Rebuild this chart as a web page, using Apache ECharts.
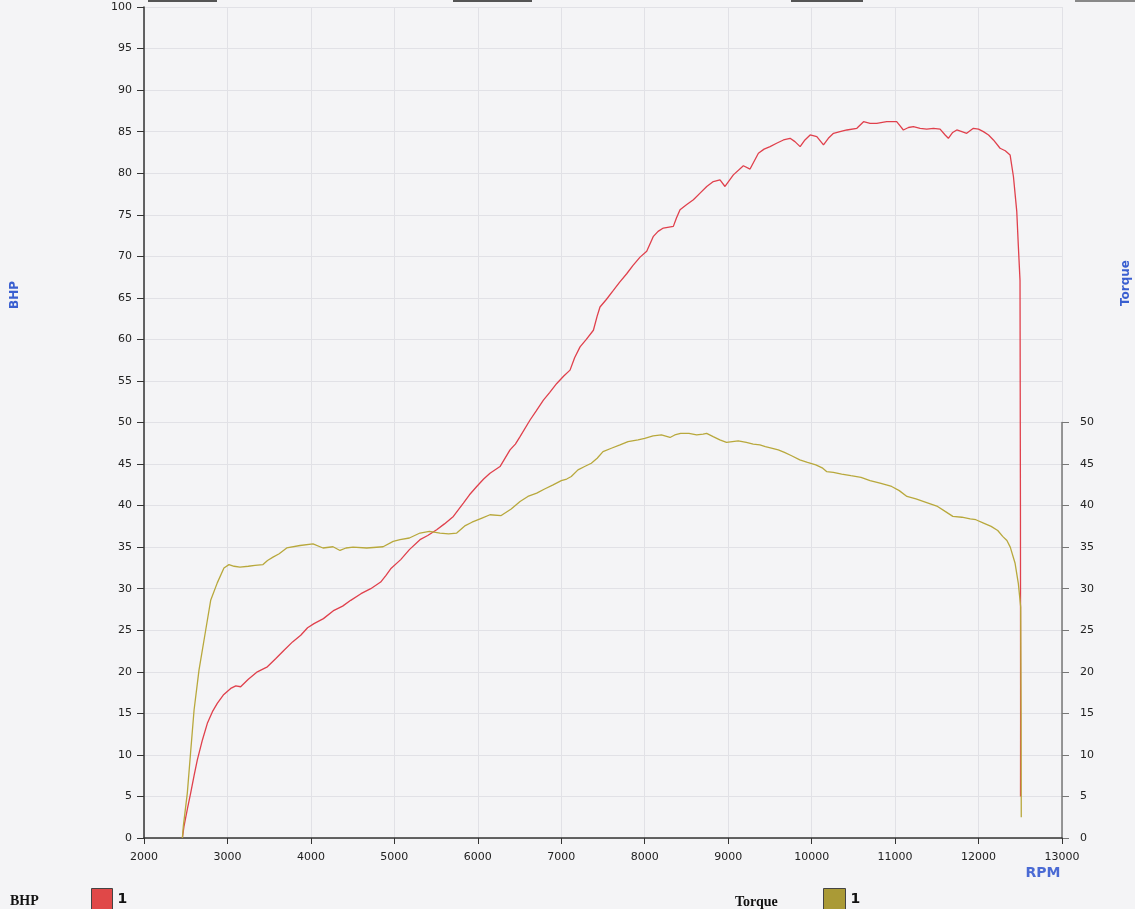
<!DOCTYPE html>
<html>
<head>
<meta charset="utf-8">
<script src="https://cdn.jsdelivr.net/npm/echarts@6/dist/echarts.min.js"></script>
<style>
html,body{margin:0;padding:0;background:#f4f4f6;}
#chart{width:1135px;height:909px;}
</style>
</head>
<body>
<div id="chart"></div>
<script>
// ---- data ----
const bhpRpm = [2460,2479,2520,2559,2600,2639,2700,2759,2820,2878,2950,3039,3100,3158,3250,3358,3478,3580,3678,3780,3878,3960,4037,4150,4277,4380,4477,4600,4717,4836,4900,4956,5076,5180,5307,5400,5507,5600,5707,5827,5900,5987,6070,6146,6266,6386,6450,6506,6626,6700,6786,6860,6946,7030,7105,7160,7225,7300,7385,7430,7464,7540,7624,7700,7784,7860,7944,8024,8104,8160,8223,8343,8380,8423,8500,8583,8663,8743,8822,8902,8962,9062,9182,9262,9362,9430,9502,9580,9662,9742,9800,9862,9920,9982,10062,10142,10200,10262,10340,10422,10542,10622,10700,10780,10899,11019,11060,11099,11160,11219,11300,11379,11460,11539,11600,11638,11690,11739,11800,11858,11938,12000,12058,12120,12178,12258,12320,12378,12418,12458,12477,12497,12502,12504,12503];
const bhpValues = [0,1.4,3.5,5.4,7.5,9.4,11.8,13.8,15.2,16.2,17.2,18.0,18.3,18.2,19.1,20.0,20.6,21.6,22.6,23.6,24.4,25.3,25.8,26.4,27.4,27.9,28.6,29.4,30.0,30.8,31.6,32.4,33.5,34.7,35.9,36.4,37.1,37.8,38.7,40.3,41.3,42.3,43.2,43.9,44.7,46.7,47.4,48.3,50.3,51.4,52.7,53.6,54.7,55.6,56.3,57.8,59.1,60.0,61.1,62.8,63.9,64.8,65.9,66.9,67.9,68.9,69.9,70.6,72.4,73.0,73.4,73.6,74.6,75.6,76.2,76.8,77.6,78.4,79.0,79.2,78.4,79.8,80.9,80.5,82.4,82.9,83.2,83.6,84.0,84.2,83.8,83.2,84.0,84.6,84.4,83.4,84.2,84.8,85.0,85.2,85.4,86.2,86.0,86.0,86.2,86.2,85.7,85.2,85.5,85.6,85.4,85.3,85.4,85.3,84.6,84.2,84.9,85.2,85.0,84.8,85.4,85.3,85.0,84.6,84.0,83.0,82.7,82.2,79.6,75.4,71.2,67.1,40,15,5];

const torqueRpm = [2460,2471,2519,2560,2600,2659,2739,2799,2878,2958,3018,3080,3150,3250,3330,3426,3480,3546,3620,3710,3870,4025,4145,4265,4349,4420,4505,4669,4865,4986,5068,5180,5307,5420,5547,5650,5747,5850,5930,6050,6146,6280,6400,6506,6600,6706,6800,6902,7000,7065,7120,7200,7280,7360,7430,7500,7600,7704,7800,7920,8000,8100,8200,8303,8360,8430,8530,8622,8700,8742,8820,8900,8980,9050,9120,9217,9300,9380,9445,9530,9600,9674,9760,9858,9950,10050,10133,10179,10260,10360,10470,10592,10700,10820,10959,11050,11142,11250,11370,11509,11600,11692,11800,11900,11968,12060,12151,12230,12289,12340,12380,12437,12477,12505,12510,12512];
const torqueValues = [0,1.4,5.4,10.5,15.4,20.2,25.0,28.6,30.7,32.5,32.9,32.7,32.6,32.7,32.8,32.9,33.4,33.8,34.2,34.9,35.2,35.4,34.9,35.05,34.6,34.9,35.0,34.9,35.05,35.7,35.9,36.1,36.7,36.9,36.7,36.6,36.7,37.6,38.0,38.5,38.9,38.8,39.6,40.5,41.1,41.5,42.0,42.5,43.0,43.2,43.5,44.3,44.7,45.1,45.7,46.5,46.9,47.3,47.7,47.9,48.1,48.4,48.5,48.2,48.5,48.7,48.7,48.5,48.6,48.7,48.3,47.9,47.6,47.7,47.8,47.6,47.4,47.3,47.1,46.9,46.7,46.4,46.0,45.5,45.2,44.9,44.5,44.1,44.0,43.8,43.6,43.4,43.0,42.7,42.3,41.8,41.1,40.8,40.4,39.9,39.3,38.7,38.6,38.4,38.3,37.9,37.5,37.0,36.3,35.8,35.0,33.1,30.6,27.8,15,2.5];

const bhpTicks = {min:0, max:100, step:5};
const torqueTicks = {min:0, max:50, step:5};
const rpmTicks = {min:2000, max:13000, step:1000};

const bhpData = bhpRpm.map((r,i)=>[r,bhpValues[i]]);
const torqueData = torqueRpm.map((r,i)=>[r,torqueValues[i]]);

const chart = echarts.init(document.getElementById('chart'), null, {renderer:'canvas'});
const labelFont = {fontFamily:'DejaVu Sans', fontSize:11, color:'#222', formatter:(v)=>String(v)};
const gridLine = {show:true, lineStyle:{color:'#e1e1e6', width:1}};

chart.setOption({
  animation:false,
  backgroundColor:'#f4f4f6',
  grid:[
    {left:144, right:73, top:7, bottom:71, show:false},
    {left:144, right:73, top:422.5, bottom:71, show:false}
  ],
  xAxis:[
    {type:'value', gridIndex:0, min:rpmTicks.min, max:rpmTicks.max, interval:rpmTicks.step,
     axisLine:{show:true, onZero:false, lineStyle:{color:'#333', width:1.5}},
     axisTick:{show:true, length:6, lineStyle:{color:'#333'}},
     axisLabel:Object.assign({margin:14}, labelFont),
     splitLine:gridLine},
    {type:'value', gridIndex:1, min:rpmTicks.min, max:rpmTicks.max, interval:rpmTicks.step, show:false}
  ],
  yAxis:[
    {type:'value', gridIndex:0, min:bhpTicks.min, max:bhpTicks.max, interval:bhpTicks.step,
     axisLine:{show:true, lineStyle:{color:'#333', width:1.5}},
     axisTick:{show:true, length:7, lineStyle:{color:'#333'}},
     axisLabel:Object.assign({margin:12}, labelFont),
     splitLine:gridLine},
    {type:'value', gridIndex:1, position:'right', min:torqueTicks.min, max:torqueTicks.max, interval:torqueTicks.step,
     axisLine:{show:true, lineStyle:{color:'#777', width:1.5}},
     axisTick:{show:true, length:7, lineStyle:{color:'#777'}},
     axisLabel:Object.assign({margin:18}, labelFont),
     splitLine:{show:false}}
  ],
  legend:[
    {data:['BHP'], left:91, top:888, padding:0, icon:'rect', itemWidth:21, itemHeight:22,
     itemStyle:{borderColor:'#444', borderWidth:1},
     formatter:()=> '1', textStyle:{fontFamily:'DejaVu Sans', fontWeight:'bold', fontSize:14, color:'#111'}},
    {data:['Torque'], left:823, top:888, padding:0, icon:'rect', itemWidth:22, itemHeight:22,
     itemStyle:{borderColor:'#444', borderWidth:1},
     formatter:()=> '1', textStyle:{fontFamily:'DejaVu Sans', fontWeight:'bold', fontSize:14, color:'#111'}}
  ],
  series:[
    {name:'BHP', type:'line', xAxisIndex:0, yAxisIndex:0, data:bhpData, showSymbol:false, symbol:'none',
     clip:false, lineStyle:{color:'#e0404c', width:1.3}, itemStyle:{color:'#e04848'}},
    {name:'Torque', type:'line', xAxisIndex:1, yAxisIndex:1, data:torqueData, showSymbol:false, symbol:'none',
     clip:false, lineStyle:{color:'#b8a83c', width:1.3}, itemStyle:{color:'#aa9a36'}}
  ],
  graphic:[
    {type:'text', x:15, y:295, rotation:Math.PI/2,
     style:{text:'BHP', fontFamily:'DejaVu Sans', fontWeight:'bold', fontSize:12, fill:'#3a5fd0', align:'center', verticalAlign:'middle'}},
    {type:'text', x:1126, y:283, rotation:Math.PI/2,
     style:{text:'Torque', fontFamily:'DejaVu Sans', fontWeight:'bold', fontSize:12, fill:'#3a5fd0', align:'center', verticalAlign:'middle'}},
    {type:'text', x:1043, y:873,
     style:{text:'RPM', fontFamily:'DejaVu Sans', fontWeight:'bold', fontSize:14, fill:'#4a6ad4', align:'center', verticalAlign:'middle'}},
    {type:'text', x:10, y:901,
     style:{text:'BHP', fontFamily:'Liberation Serif', fontWeight:'bold', fontSize:14, fill:'#111', align:'left', verticalAlign:'middle'}},
    {type:'text', x:735, y:902,
     style:{text:'Torque', fontFamily:'Liberation Serif', fontWeight:'bold', fontSize:14, fill:'#111', align:'left', verticalAlign:'middle'}},
    {type:'rect', shape:{x:148, y:0, width:69, height:2}, style:{fill:'#555'}},
    {type:'rect', shape:{x:453, y:0, width:79, height:2}, style:{fill:'#555'}},
    {type:'rect', shape:{x:791, y:0, width:72, height:2}, style:{fill:'#555'}},
    {type:'rect', shape:{x:1075, y:0, width:60, height:2}, style:{fill:'#888'}}
  ]
});
</script>
</body>
</html>
